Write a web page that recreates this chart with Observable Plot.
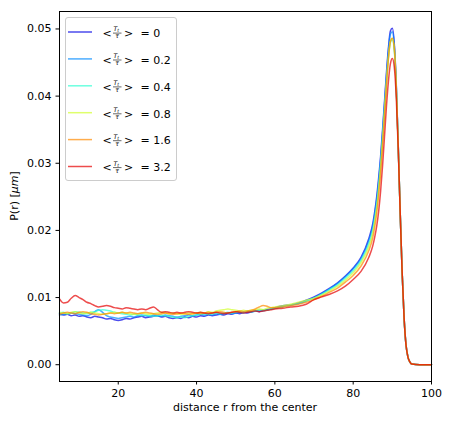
<!DOCTYPE html>
<html><head><meta charset="utf-8">
<script src="https://cdn.jsdelivr.net/npm/d3@7"></script>
<script src="https://cdn.jsdelivr.net/npm/@observablehq/plot@0.6"></script>
<style>
body{margin:0;background:#fff;}
#chart{position:relative;width:449px;height:421px;}
#chart svg{font-family:"DejaVu Sans",sans-serif;}
</style>
</head><body><div id="chart"></div>
<script>
// distance r from the center
const r = [
  5,6,7,8,9,10,11,12,13,14,
  15,16,17,18,19,20,21,22,23,24,
  25,26,27,28,29,30,31,32,33,34,
  35,36,37,38,39,40,41,42,43,44,
  45,46,47,48,49,50,51,52,53,54,
  55,56,57,58,59,60,
  62,64,66,68,70,72,74,76,78,80,82,84,
  85,85.5,86,86.5,87,87.5,88,88.5,89,89.5,90,90.5,91,91.5,92,92.5,93,93.5,94,94.5,95,
  97,100
];
// <T_t/tau> values (legend labels)
const labels = ["0", "0.2", "0.4", "0.8", "1.6", "3.2"];
// P(r) series
const p0 = [
  .0076,.0074,.0075,.0073,.0074,.0072,.0073,.0071,.0070,.0072,
  .0071,.0070,.0068,.0069,.0067,.0066,.0067,.0069,.0068,.0070,
  .0071,.0072,.0070,.0071,.0072,.0073,.0071,.0072,.0070,.0069,
  .0070,.0069,.0071,.0070,.0072,.0071,.0073,.0072,.0074,.0073,
  .0074,.0075,.0074,.0076,.0075,.0077,.0076,.0078,.0077,.0079,
  .0080,.0079,.0081,.0082,.0083,.0085,
  .0088,.0089,.0092,.0096,.0101,.0107,.0114,.0122,.0132,.0144,.0160,.0188,
  .0210,.0228,.0250,.0278,.0310,.0350,.0392,.0435,.0472,.0497,.0501,.0478,.0418,.0328,.0228,.0138,.0070,.0029,.0011,.0004,.0001,
  0,0
];
const p1 = [
  .0074,.0075,.0076,.0077,.0076,.0075,.0074,.0073,.0075,.0079,
  .0082,.0078,.0073,.0071,.0070,.0069,.0070,.0071,.0072,.0071,
  .0073,.0074,.0073,.0072,.0074,.0073,.0072,.0074,.0073,.0072,
  .0071,.0072,.0073,.0074,.0073,.0074,.0075,.0074,.0075,.0074,
  .0076,.0075,.0076,.0077,.0076,.0077,.0078,.0077,.0079,.0078,
  .0080,.0081,.0080,.0082,.0083,.0084,
  .0087,.0089,.0091,.0095,.0100,.0106,.0113,.0121,.0131,.0143,.0158,.0185,
  .0206,.0224,.0245,.0272,.0305,.0345,.0388,.0430,.0468,.0492,.0496,.0475,.0416,.0327,.0228,.0138,.0070,.0029,.0011,.0004,.0001,
  0,0
];
const p2 = [
  .0077,.0078,.0076,.0077,.0079,.0078,.0077,.0076,.0078,.0079,
  .0081,.0082,.0081,.0080,.0078,.0077,.0076,.0075,.0074,.0075,
  .0074,.0073,.0074,.0073,.0072,.0073,.0074,.0073,.0072,.0071,
  .0070,.0071,.0070,.0072,.0073,.0074,.0075,.0076,.0075,.0076,
  .0077,.0076,.0077,.0078,.0077,.0078,.0079,.0078,.0080,.0079,
  .0080,.0081,.0082,.0081,.0083,.0084,
  .0086,.0089,.0091,.0095,.0099,.0105,.0112,.0119,.0129,.0140,.0155,.0180,
  .0200,.0218,.0238,.0265,.0298,.0338,.0380,.0422,.0458,.0480,.0484,.0468,.0412,.0325,.0228,.0138,.0070,.0029,.0011,.0004,.0001,
  0,0
];
const p3 = [
  .0078,.0077,.0076,.0078,.0079,.0077,.0076,.0077,.0078,.0077,
  .0076,.0075,.0076,.0077,.0078,.0077,.0078,.0077,.0076,.0075,
  .0076,.0077,.0076,.0075,.0076,.0077,.0078,.0077,.0076,.0077,
  .0076,.0075,.0076,.0077,.0076,.0077,.0078,.0077,.0079,.0078,
  .0080,.0081,.0082,.0083,.0082,.0081,.0080,.0081,.0080,.0081,
  .0082,.0083,.0082,.0084,.0085,.0086,
  .0088,.0090,.0093,.0096,.0099,.0104,.0110,.0117,.0126,.0137,.0152,.0176,
  .0196,.0213,.0233,.0260,.0293,.0333,.0376,.0420,.0458,.0482,.0486,.0470,.0413,.0326,.0228,.0138,.0070,.0029,.0011,.0004,.0001,
  0,0
];
const p4 = [
  .0075,.0077,.0078,.0077,.0076,.0078,.0079,.0078,.0076,.0075,
  .0074,.0075,.0076,.0077,.0076,.0077,.0078,.0077,.0078,.0077,
  .0076,.0077,.0078,.0077,.0076,.0075,.0076,.0077,.0076,.0075,
  .0076,.0077,.0076,.0075,.0076,.0077,.0076,.0077,.0078,.0077,
  .0078,.0079,.0078,.0077,.0078,.0079,.0080,.0079,.0080,.0081,
  .0083,.0086,.0088,.0087,.0085,.0085,
  .0086,.0088,.0090,.0093,.0097,.0102,.0108,.0114,.0123,.0133,.0147,.0170,
  .0189,.0205,.0225,.0252,.0285,.0326,.0370,.0416,.0456,.0481,.0486,.0471,.0414,.0327,.0228,.0138,.0070,.0029,.0011,.0004,.0001,
  0,0
];
const p5 = [
  .0098,.0092,.0093,.0099,.0103,.0100,.0097,.0093,.0091,.0088,
  .0086,.0087,.0088,.0087,.0085,.0084,.0083,.0085,.0084,.0083,
  .0082,.0083,.0082,.0084,.0086,.0082,.0078,.0079,.0078,.0077,
  .0078,.0077,.0078,.0079,.0078,.0077,.0078,.0077,.0076,.0077,
  .0078,.0077,.0076,.0077,.0078,.0079,.0078,.0077,.0078,.0079,
  .0080,.0079,.0080,.0081,.0082,.0083,
  .0084,.0086,.0087,.0090,.0097,.0101,.0105,.0110,.0117,.0127,.0139,.0160,
  .0177,.0190,.0206,.0228,.0258,.0296,.0340,.0385,.0422,.0448,.0456,.0443,.0398,.0322,.0228,.0138,.0070,.0029,.0011,.0004,.0001,
  0,0
];
const series = [p0, p1, p2, p3, p4, p5];
const colors = ["#0000e6", "#008aff", "#2effd1", "#d1ff2e", "#ff8a00", "#e60000"];
const xTicks = [20, 40, 60, 80, 100];
const yTicks = [0, 0.01, 0.02, 0.03, 0.04, 0.05];

const W = 449, H = 421, mL = 59, mR = 18, mT = 11, mB = 40;
const FS = 11;

const lineMarks = series.map((vals, k) =>
  Plot.line(r.map((x, i) => ({r: x, p: vals[i]})), {
    x: "r", y: "p", stroke: colors[k], strokeWidth: 1.5, strokeOpacity: 0.7, curve: "monotone-x"
  })
);

const chart = Plot.plot({
  width: W, height: H,
  marginLeft: mL, marginRight: mR, marginTop: mT, marginBottom: mB,
  style: {fontFamily: "'DejaVu Sans', sans-serif", fontSize: FS + "px", color: "#000", background: "#fff"},
  x: {domain: [5, 100]},
  y: {domain: [-0.0025, 0.0526]},
  marks: [
    ...lineMarks,
    Plot.axisX({ticks: xTicks, tickSize: 3.5, tickPadding: 4.5, label: null, tickFormat: d3.format("d")}),
    Plot.axisY({ticks: yTicks, tickSize: 3.5, tickPadding: 4.5, label: null, tickFormat: d3.format(".2f")}),
    Plot.frame({stroke: "#000", strokeWidth: 1})
  ]
});
document.getElementById("chart").appendChild(chart);

const svg = d3.select(chart);
// axis titles
svg.append("text").attr("x", (mL + W - mR) / 2).attr("y", 411)
  .attr("text-anchor", "middle").attr("font-size", FS).attr("fill", "#000")
  .text("distance r from the center");
const yl = svg.append("text").attr("transform", `translate(17.5,${(mT + H - mB) / 2}) rotate(-90)`)
  .attr("text-anchor", "middle").attr("font-size", FS).attr("fill", "#000");
yl.append("tspan").text("P(r) [");
yl.append("tspan").attr("font-style", "italic").text("μm");
yl.append("tspan").text("]");

// legend
const lg = svg.append("g").attr("text-anchor", "start");
lg.append("rect").attr("x", 65.5).attr("y", 17.5).attr("width", 111).attr("height", 163)
  .attr("rx", 2.5).attr("fill", "#fff").attr("fill-opacity", 0.8)
  .attr("stroke", "#cccccc").attr("stroke-width", 1);
labels.forEach((lab, i) => {
  const cy = 32 + i * 26.9;
  lg.append("line").attr("x1", 68).attr("x2", 92).attr("y1", cy).attr("y2", cy)
    .attr("stroke", colors[i]).attr("stroke-width", 1.5).attr("stroke-opacity", 0.7);
  const t = (x, y, s, txt, it) => lg.append("text").attr("x", x).attr("y", y)
    .attr("text-anchor", "start")
    .attr("font-size", s).attr("fill", "#000").attr("font-style", it ? "italic" : null).text(txt);
  t(102.5, cy + 4.8, FS, "<");
  const num = lg.append("text").attr("x", 113.4).attr("y", cy - 0.7).attr("font-size", 6.2)
    .attr("text-anchor", "start").attr("fill", "#000").attr("font-style", "italic");
  num.append("tspan").text("T");
  num.append("tspan").attr("font-size", 4.5).attr("dy", 1).text("t");
  lg.append("line").attr("x1", 113).attr("x2", 121.5).attr("y1", cy + 1.1).attr("y2", cy + 1.1)
    .attr("stroke", "#000").attr("stroke-width", 0.6);
  t(115.2, cy + 6, 6.2, "τ", true);
  t(124, cy + 4.8, FS, ">");
  t(140.5, cy + 4.8, FS, "= " + lab);
});
</script>
</body></html>
